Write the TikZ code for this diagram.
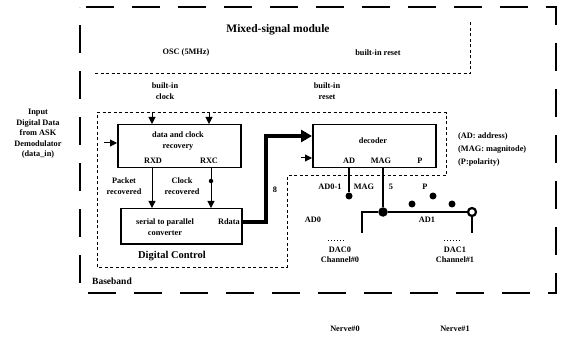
\documentclass[tikz,border=0pt]{standalone}
\usepackage{fontspec}
\setmainfont{Liberation Serif}
\usetikzlibrary{arrows.meta}
\begin{document}
\begin{tikzpicture}[x=1pt,y=-1pt,
  txt/.style={font=\bfseries\fontsize{8.3}{10.5}\selectfont, inner sep=0pt, align=center},
  blk/.style={draw, line width=1.5pt, inner sep=0pt, anchor=north west},
  outerdash/.style={line width=1.9pt, dash pattern=on 28pt off 18pt},
  thindash/.style={line width=1pt, dash pattern=on 3pt off 2.5pt},
  arr/.style={line width=1pt, -{Triangle[length=7pt,width=7pt]}},
  wire/.style={line width=1.4pt},
  dot/.style={circle, fill, inner sep=0pt, minimum size=7pt},
  ring/.style={circle, draw, line width=2.2pt, fill=white, inner sep=0pt, minimum size=8pt}]
\useasboundingbox (0,0) rectangle (566,345);
% outer baseband box
\draw[outerdash] (86,7) -- (556,7) -- (556,293) -- (80,293) -- (80,7);
% mixed-signal module border
\draw[thindash] (95,74) -- (470,74) -- (470,22);
% digital control border
\draw[thindash] (97,113) -- (446,113) -- (446,176) -- (287,176) -- (287,267) -- (97,267) -- cycle;
% texts in mixed signal
\node[txt, font=\bfseries\fontsize{11.5}{13}\selectfont] (title) at (278,30) {Mixed-signal module};
\node[txt] (osc) at (186,53) {OSC (5MHz)};
\node[txt] (brst) at (378,53) {built-in reset};
\node[txt] (bclk) at (165,91) {built-in\\clock};
\node[txt] (brst2) at (327,91) {built-in\\reset};
% left input text
\node[txt] (inp) at (38,134) {Input\\Digital Data\\from ASK\\Demodulator\\(data\_in)};
% right legend
\node[txt, anchor=west, align=left, font=\bfseries\fontsize{8.3}{13}\selectfont] (legend) at (458,150) {(AD: address)\\(MAG: magnitode)\\(P:polarity)};
% blocks
\node[blk, minimum width=123pt, minimum height=43pt] (dcr) at (117,124) {};
\node[blk, minimum width=123pt, minimum height=43pt] (dec) at (312,124) {};
\node[blk, minimum width=121pt, minimum height=35pt] (s2p) at (120,208) {};
\node[txt] (dcrt) at (178,141) {data and clock\\recovery};
\node[txt] (rxd) at (153,161) {RXD};
\node[txt] (rxc) at (209,161) {RXC};
\node[txt] (dect) at (373,141) {decoder};
\node[txt] (adt) at (349,161) {AD};
\node[txt] (magt) at (381,161) {MAG};
\node[txt] (pt) at (420,161) {P};
\node[txt] (s2pt) at (165,227) {serial to parallel\\converter};
\node[txt, anchor=east] (rdata) at (240,222) {Rdata};
% inputs
\coordinate (clkin) at (152,113);
\coordinate (rstin) at (209,113);
\coordinate (datain) at (104,143);
\coordinate (decin) at (301,158);
\draw[arr] (clkin) -- (clkin |- dcr.north);
\draw[arr] (rstin) -- (rstin |- dcr.north);
\draw[arr] (datain) -- (datain -| dcr.west);
\draw[arr] (decin) -- (decin -| dec.west);
% RXD / RXC
\draw[arr] ([xshift=35pt]dcr.south west) -- ([xshift=32pt]s2p.north west);
\draw[arr] ([xshift=94pt]dcr.south west) -- ([xshift=91pt]s2p.north west);
\node[dot, minimum size=4.5pt] (rxcdot) at (211,181) {};
\node[txt] (pkt) at (124,186) {Packet\\recovered};
\node[txt] (clkr) at (182,186) {Clock\\recovered};
% thick bus
\coordinate (bend) at (266,136);
\draw[line width=4pt, line join=miter, -{Triangle[length=11pt,width=12pt]}] ([yshift=4pt]s2p.east) -| (bend) -- (bend -| dec.west);
\node[txt] (eight) at (275,190) {8};
% decoder outputs
\node[dot] (addot) at (349,196) {};
\node[dot, minimum size=9.5pt] (magdot) at (383,212) {};
\node[ring] (ringn) at (472,212) {};
\coordinate (ad0end) at (362,233);
\coordinate (ad1end) at (472,233);
\draw[wire] ([xshift=37pt]dec.south west) -- (addot);
\draw[wire] ([xshift=71pt]dec.south west) -- (magdot);
\draw[wire] (ad0end) |- (magdot) -- (ringn) -- (ad1end);
\node[dot] (d1) at (412,204) {};
\node[dot] (d2) at (433,196) {};
\node[dot] (d3) at (452,204) {};
\node[txt] (ad01) at (330,187) {AD0-1};
\node[txt] (mag2) at (364,187) {MAG};
\node[txt] (five) at (391,187) {5};
\node[txt] (p2) at (425,187) {P};
\node[txt] (ad0) at (313,220) {AD0};
\node[txt] (ad1) at (427,220) {AD1};
% DAC labels
\draw[line width=1pt, dotted] (328,240) -- (346,240);
\draw[line width=1pt, dotted] (444,240) -- (462,240);
\node[txt] (dac0) at (340,255) {DAC0\\Channel\#0};
\node[txt] (dac1) at (455,255) {DAC1\\Channel\#1};
\node[txt, font=\bfseries\fontsize{10.5}{12}\selectfont] (dctl) at (172,256) {Digital Control};
\node[txt, font=\bfseries\fontsize{9.5}{11}\selectfont, anchor=west] (bb) at (92,281) {Baseband};
\node[txt] (n0) at (345,329) {Nerve\#0};
\node[txt] (n1) at (455,329) {Nerve\#1};
\end{tikzpicture}
\end{document}
